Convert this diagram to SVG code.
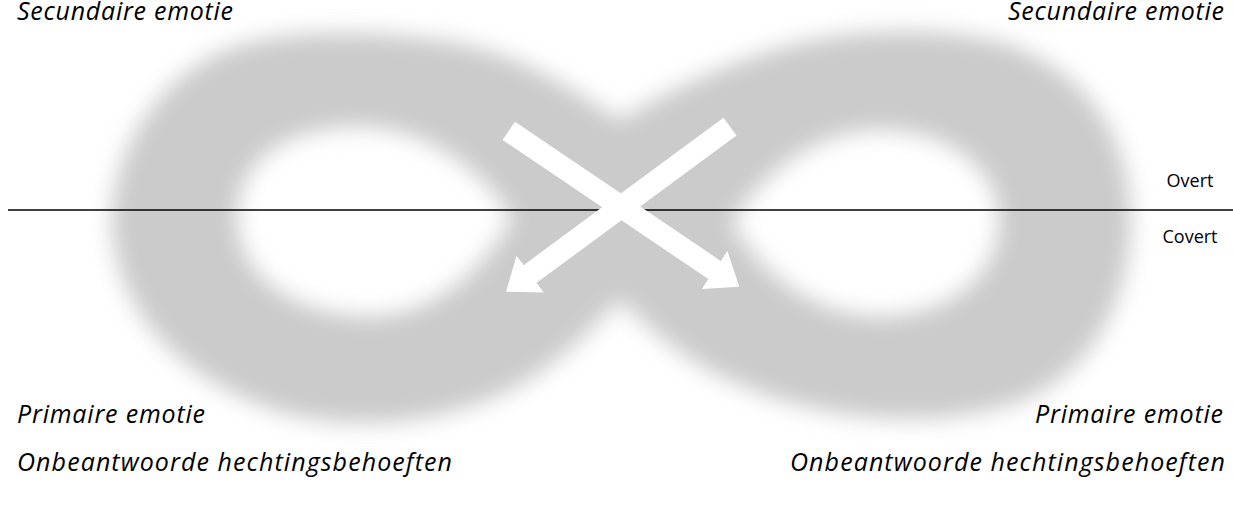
<svg xmlns="http://www.w3.org/2000/svg" width="1233" height="506" viewBox="0 0 1233 506">
  <style>
    .lbl { font-family: "Open Sans", "Liberation Sans", sans-serif; font-style: italic; font-size: 25px; fill: #000; }
    .side { font-family: "Open Sans", "Liberation Sans", sans-serif; font-size: 18px; fill: #000; }
    .arrow { stroke: #fff; stroke-width: 22; fill: none; stroke-linecap: butt; }
  </style>
  <defs>
    <filter id="soft" x="-20%" y="-30%" width="140%" height="160%">
      <feGaussianBlur stdDeviation="11"/>
    </filter>
    <marker id="head" markerUnits="userSpaceOnUse" viewBox="0 0 30 46" markerWidth="30" markerHeight="46" refX="1" refY="23" orient="auto">
      <path d="M0,0 L30,23 L0,46 Z" fill="#fff"/>
    </marker>
  </defs>
  <rect width="1233" height="506" fill="#fff"/>

  <g id="infinity">
    <path filter="url(#soft)" fill="#cbcbcb" fill-rule="evenodd" d="M 620 120 C 580 95, 520 50, 440 40 C 380 32, 300 28, 240 45 C 160 70, 112 150, 112 220 C 112 300, 170 380, 290 415 C 360 430, 440 425, 510 390 C 560 365, 595 325, 620 300 C 650 330, 690 365, 740 385 C 820 420, 930 430, 1010 405 C 1090 380, 1131 300, 1131 220 C 1131 140, 1090 70, 1000 42 C 930 25, 850 30, 790 45 C 720 65, 660 95, 620 120 Z M 237 215 C 240 150, 300 127, 360 127 C 420 127, 480 165, 512 218 C 480 275, 430 316, 370 316 C 300 316, 237 280, 237 215 Z M 732 222 C 765 170, 820 130, 880 130 C 950 130, 999 170, 999 220 C 999 275, 950 316, 880 316 C 820 316, 765 280, 732 222 Z"/>
  </g>

  <g id="divider">
    <line x1="8" y1="210" x2="1233" y2="210" stroke="#000" stroke-width="1.5"/>
  </g>

  <g id="connectors">
    <line class="arrow" x1="508.8" y1="130.8" x2="715.3" y2="270.5" marker-end="url(#head)"/>
    <line class="arrow" x1="730" y1="126.7" x2="529.4" y2="274.5" marker-end="url(#head)"/>
  </g>

  <g id="sec-left"><text class="lbl" x="17" y="20" textLength="216">Secundaire emotie</text></g>
  <g id="sec-right"><text class="lbl" x="1224" y="20" text-anchor="end" textLength="216">Secundaire emotie</text></g>
  <g id="overt"><text class="side" x="1190" y="187" text-anchor="middle" textLength="47">Overt</text></g>
  <g id="covert"><text class="side" x="1190" y="243" text-anchor="middle" textLength="55">Covert</text></g>
  <g id="prim-left"><text class="lbl" x="17" y="423" textLength="188">Primaire emotie</text></g>
  <g id="prim-right"><text class="lbl" x="1223" y="423" text-anchor="end" textLength="188">Primaire emotie</text></g>
  <g id="needs-left"><text class="lbl" x="17" y="471" textLength="435">Onbeantwoorde hechtingsbehoeften</text></g>
  <g id="needs-right"><text class="lbl" x="1225" y="471" text-anchor="end" textLength="435">Onbeantwoorde hechtingsbehoeften</text></g>
</svg>
